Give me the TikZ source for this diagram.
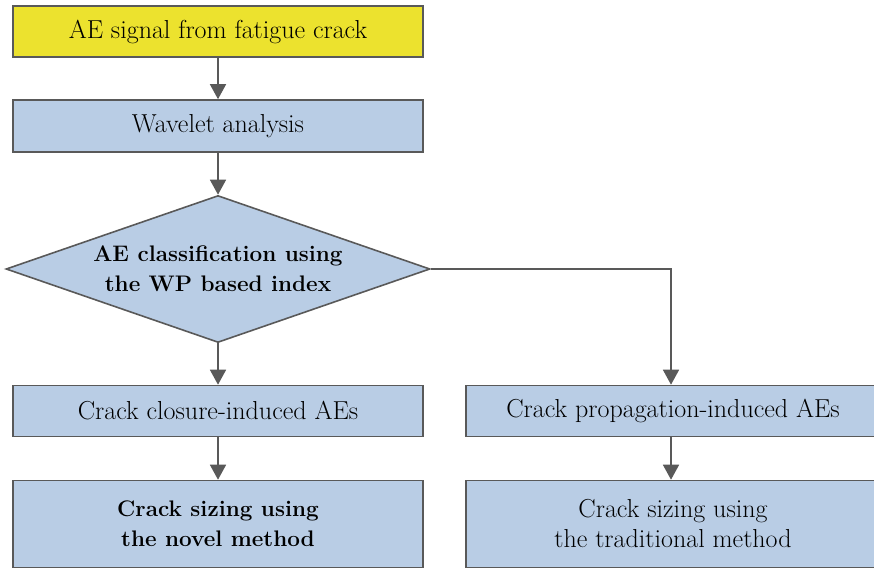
\documentclass[tikz,border=0pt]{standalone}
\usetikzlibrary{shapes.geometric, arrows.meta, positioning}

\definecolor{boxblue}{HTML}{B9CDE5}
\definecolor{boxyellow}{HTML}{ECE22E}
\definecolor{edgegray}{HTML}{595959}

\begin{document}
\begin{tikzpicture}[x=1pt, y=-1pt, font=\fontsize{26}{30}\selectfont,
  >={Triangle[length=15pt, width=16pt]},
  block/.style={draw=edgegray, line width=1.6pt, fill=boxblue, minimum width=410pt, align=center, inner sep=0pt},
  decision/.style={diamond, draw=edgegray, line width=1.6pt, fill=boxblue, aspect=2.9, minimum width=424pt, minimum height=147pt, inner sep=0pt, align=center, font=\fontsize{22.5}{30}\selectfont\bfseries},
  link/.style={->, draw=edgegray, line width=1.6pt}]
\useasboundingbox (0,0) rectangle (874,569);
%
\node[block, fill=boxyellow, minimum height=51pt] (signal) at (218,31.5) {AE signal from fatigue crack};
\node[block, minimum height=52pt] (wavelet) at (218,126) {Wavelet analysis};
\node[decision] (classify) at (218,269) {AE classification using\\the WP based index};
%
\node[block, minimum height=51pt] (closure) at (218,411) {Crack closure-induced AEs};
\node[block, minimum height=51pt, minimum width=414pt] (propagation) at (673,411) {Crack propagation-induced AEs};
\node[block, minimum height=87pt, font=\fontsize{22.5}{30}\selectfont\bfseries] (novel) at (218,524) {Crack sizing using\\the novel method};
\node[block, minimum height=87pt, minimum width=414pt] (traditional) at (673,524) {Crack sizing using\\the traditional method};
%
\draw[link] (signal) -- (wavelet);
\draw[link] (wavelet) -- (classify);
\draw[link] (classify) -- (closure);
\draw[link] (classify.east) -| ([xshift=-2pt]propagation.north);
\draw[link] (closure) -- (novel);
\draw[link] ([xshift=-2pt]propagation.south) -- ([xshift=-2pt]traditional.north);
\end{tikzpicture}
\end{document}
